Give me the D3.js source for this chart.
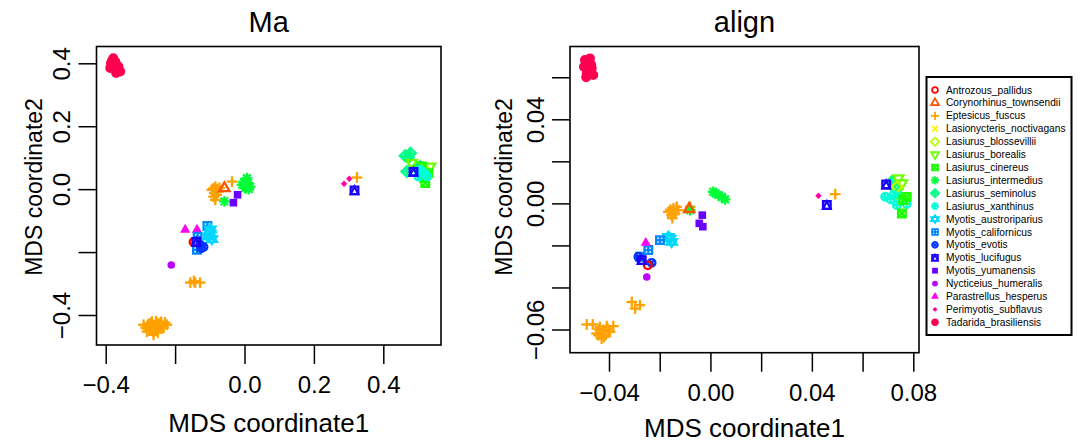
<!DOCTYPE html>
<html><head><meta charset="utf-8">
<script src="https://cdn.jsdelivr.net/npm/d3@7"></script>
<style>
body{margin:0;background:#fff}
svg{display:block}
text{font-family:"Liberation Sans",Arial,Helvetica,sans-serif;fill:#000}
</style>
</head><body>
<svg id="chart" width="1080" height="443"></svg>
<script>
// ---------------- data ----------------
const species = ["Antrozous_pallidus","Corynorhinus_townsendii","Eptesicus_fuscus","Lasionycteris_noctivagans",
  "Lasiurus_blossevillii","Lasiurus_borealis","Lasiurus_cinereus","Lasiurus_intermedius","Lasiurus_seminolus",
  "Lasiurus_xanthinus","Myotis_austroriparius","Myotis_californicus","Myotis_evotis","Myotis_lucifugus",
  "Myotis_yumanensis","Nycticeius_humeralis","Parastrellus_hesperus","Perimyotis_subflavus","Tadarida_brasiliensis"];
const panelTitles = ["Ma","align"];
const xAxisTitle = "MDS coordinate1";
const yAxisTitle = "MDS coordinate2";

const maXTicks = [-0.4,-0.2,0.0,0.2,0.4];
const maXTickLabels = ["\u22120.4","","0.0","0.2","0.4"];
const maYTicks = [-0.4,-0.2,0.0,0.2,0.4];
const maYTickLabels = ["\u22120.4","","0.0","0.2","0.4"];
const alignXTicks = [-0.04,-0.02,0.00,0.02,0.04,0.06,0.08];
const alignXTickLabels = ["\u22120.04","","0.00","","0.04","","0.08"];
const alignYTicks = [-0.06,-0.04,-0.02,0.00,0.02,0.04,0.06];
const alignYTickLabels = ["\u22120.06","","","0.00","","0.04",""];

// rows: [species index, MDS coordinate1, MDS coordinate2]
const maPoints = [
  [18,-0.385,0.400],[18,-0.378,0.416],[18,-0.363,0.390],[18,-0.358,0.374],[18,-0.370,0.369],[18,-0.387,0.385],[18,-0.380,0.395],
  [18,-0.372,0.405],[18,-0.366,0.380],[18,-0.382,0.408],[18,-0.375,0.384],
  [2,-0.291,-0.431],[2,-0.277,-0.437],[2,-0.267,-0.421],[2,-0.257,-0.447],[2,-0.248,-0.426],[2,-0.238,-0.435],[2,-0.224,-0.431],
  [2,-0.281,-0.453],[2,-0.262,-0.463],[2,-0.252,-0.442],[2,-0.272,-0.426],[2,-0.229,-0.424],[2,-0.245,-0.440],[2,-0.268,-0.445],
  [2,-0.285,-0.440],[2,-0.274,-0.446],[2,-0.259,-0.432],[2,-0.243,-0.430],[2,-0.233,-0.440],[2,-0.263,-0.452],[2,-0.255,-0.420],
  [2,-0.278,-0.430],[2,-0.250,-0.456],[2,-0.240,-0.422],
  [2,-0.156,-0.297],[2,-0.142,-0.297],[2,-0.128,-0.297],[2,-0.146,-0.292],
  [2,-0.094,-0.002],[2,-0.084,0.008],[2,-0.075,-0.008],[2,-0.089,-0.024],[2,-0.080,-0.018],[2,-0.084,-0.034],[2,-0.090,0.002],
  [2,-0.079,0.000],[2,-0.087,-0.012],[2,-0.072,0.004],
  [2,-0.036,0.024],[2,0.324,0.037],
  [1,-0.058,0.003],
  [7,-0.007,0.014],[7,0.007,0.035],[7,0.016,0.008],[7,0.002,0.003],[7,0.010,0.020],[7,-0.002,0.022],[7,0.012,0.000],[7,-0.058,-0.039],
  [14,-0.032,-0.043],[14,-0.020,-0.018],
  [17,0.287,0.017],[17,0.302,0.033],
  [13,0.317,-0.004],
  [8,0.463,0.106],[8,0.478,0.114],[8,0.468,0.056],[8,0.506,0.072],[8,0.472,0.100],[8,0.495,0.068],
  [5,0.482,0.083],[5,0.535,0.072],
  [4,0.516,0.067],[3,0.516,0.061],
  [6,0.511,0.072],[6,0.521,0.019],[6,0.530,0.051],[6,0.518,0.035],
  [9,0.501,0.040],[9,0.526,0.040],[9,0.511,0.056],[9,0.520,0.050],[9,0.506,0.062],
  [13,0.487,0.055],
  [16,-0.171,-0.129],[16,-0.137,-0.129],
  [11,-0.107,-0.117],[11,-0.137,-0.193],[11,-0.135,-0.151],
  [10,-0.099,-0.140],[10,-0.094,-0.159],[10,-0.104,-0.151],[10,-0.098,-0.128],
  [0,-0.147,-0.168],
  [12,-0.118,-0.184],[12,-0.128,-0.177],[12,-0.125,-0.188],
  [13,-0.139,-0.168],
  [15,-0.211,-0.241]
];
const alignPoints = [
  [18,-0.0495,0.0682],[18,-0.0475,0.0690],[18,-0.0499,0.0650],[18,-0.0468,0.0643],[18,-0.0488,0.0619],[18,-0.0462,0.0611],[18,-0.0482,0.0667],
  [18,-0.0478,0.0630],[18,-0.0490,0.0600],[18,-0.0470,0.0660],
  [2,-0.0488,-0.0576],[2,-0.0464,-0.0576],[2,-0.0436,-0.0588],[2,-0.0409,-0.0584],[2,-0.0383,-0.0584],[2,-0.0449,-0.0619],
  [2,-0.0422,-0.0603],[2,-0.0396,-0.0611],[2,-0.0429,-0.0643],[2,-0.0442,-0.0627],[2,-0.0416,-0.0627],
  [2,-0.0432,-0.0612],[2,-0.0405,-0.0596],[2,-0.0438,-0.0600],[2,-0.0420,-0.0636],
  [2,-0.0310,-0.0469],[2,-0.0278,-0.0484],[2,-0.0297,-0.0500],
  [2,-0.0166,-0.0040],[2,-0.0146,-0.0024],[2,-0.0127,-0.0032],[2,-0.0153,-0.0056],[2,-0.0140,-0.0048],[2,-0.0133,-0.0016],
  [2,-0.0158,-0.0030],[2,-0.0150,-0.0070],
  [2,-0.0080,-0.0016],[2,0.0492,0.0044],
  [7,0.0011,0.0055],[7,0.0031,0.0040],[7,0.0058,0.0019],[7,0.0020,0.0048],[7,0.0045,0.0030],[7,-0.0080,-0.0032],
  [1,-0.0084,-0.0027],
  [14,-0.0032,-0.0056],[14,-0.0044,-0.0095],[14,-0.0030,-0.0111],
  [10,-0.0166,-0.0159],[10,-0.0153,-0.0183],[10,-0.0159,-0.0167],
  [11,-0.0199,-0.0175],[11,-0.0245,-0.0222],[11,-0.0278,-0.0254],
  [16,-0.0255,-0.0188],
  [12,-0.0232,-0.0283],[12,-0.0284,-0.0254],
  [0,-0.0247,-0.0294],
  [13,-0.0271,-0.0270],[13,0.0459,-0.0008],
  [15,-0.0251,-0.0350],
  [17,0.0426,0.0036],
  [8,0.0715,0.0103],[8,0.0741,0.0040],[8,0.0728,0.0070],
  [5,0.0741,0.0119],[5,0.0755,0.0095],
  [4,0.0735,0.0079],[3,0.0748,0.0000],
  [9,0.0689,0.0031],[9,0.0735,-0.0008],[9,0.0774,-0.0003],[9,0.0722,0.0040],[9,0.0710,0.0020],
  [6,0.0755,-0.0048],[6,0.0761,0.0016],[6,0.0774,0.0031],
  [13,0.0693,0.0090]
];

// ---------------- styling ----------------
const colors = species.map((s,i)=> d3.hsl(i*360/species.length,1,0.5).formatHex());
const pchCodes = species.map((s,i)=> i+1);   // R pch 1..19

function drawPch(g, pch, col, R, lw){
  const TRC0=1.5551, TRC1=1.3468, TRC2=0.7776, S2=Math.SQRT2;
  const stroke = sel => sel.attr("fill","none").attr("stroke",col).attr("stroke-width",lw);
  const poly = (pts, filled) => {
    const p = g.append("path").attr("d","M"+pts.map(q=>q.join(",")).join("L")+"Z");
    if(filled) p.attr("fill",col).attr("stroke","none"); else stroke(p);
  };
  const seg = (x1,y1,x2,y2)=> stroke(g.append("line").attr("x1",x1).attr("y1",y1).attr("x2",x2).attr("y2",y2));
  const circ = (r, filled)=> { const c=g.append("circle").attr("r",r); if(filled) c.attr("fill",col); else stroke(c); };
  let xc, r, yc;
  switch(pch){
    case 1: circ(R,false); break;
    case 2: case 6: case 17: {
      xc=R; r=TRC0*xc; yc=TRC2*xc; xc=TRC1*xc;
      const s = pch===6 ? -1 : 1;
      poly([[0,-s*r],[xc,s*yc],[-xc,s*yc]], pch===17); break; }
    case 3: xc=S2*R; seg(-xc,0,xc,0); seg(0,-xc,0,xc); break;
    case 4: seg(-R,-R,R,R); seg(-R,R,R,-R); break;
    case 5: xc=S2*R; poly([[-xc,0],[0,-xc],[xc,0],[0,xc]],false); break;
    case 7: poly([[-R,-R],[R,-R],[R,R],[-R,R]],false); seg(-R,-R,R,R); seg(-R,R,R,-R); break;
    case 8: seg(-R,-R,R,R); seg(-R,R,R,-R); xc=S2*R; seg(-xc,0,xc,0); seg(0,-xc,0,xc); break;
    case 9: xc=S2*R; seg(-xc,0,xc,0); seg(0,-xc,0,xc); poly([[-xc,0],[0,-xc],[xc,0],[0,xc]],false); break;
    case 10: circ(R,false); seg(-R,0,R,0); seg(0,-R,0,R); break;
    case 11: {
      xc=R; r=TRC0*xc; yc=TRC2*xc; yc=0.5*(yc+r); xc=TRC1*xc;
      poly([[0,-r*0.85],[xc,yc*0.6],[-xc,yc*0.6]],false);
      poly([[0,r*0.85],[xc,-yc*0.6],[-xc,-yc*0.6]],false); break; }
    case 12: poly([[-R,-R],[R,-R],[R,R],[-R,R]],false); seg(-R,0,R,0); seg(0,-R,0,R); break;
    case 13: circ(R,false); xc=R*0.72; seg(-xc,-xc,xc,xc); seg(-xc,xc,xc,-xc); break;
    case 14: poly([[-R,-R],[R,-R],[R,R],[-R,R]],false); poly([[0,-R],[R,R],[-R,R]],false); break;
    case 15: poly([[-R,-R],[R,-R],[R,R],[-R,R]],true); break;
    case 16: circ(R,true); break;
    case 18: xc=R*0.85; poly([[-xc,0],[0,-xc],[xc,0],[0,xc]],true); break;
    case 19: g.append("circle").attr("r",R).attr("fill",col).attr("stroke",col).attr("stroke-width",lw); break;
    case 20: circ(R*2/3,true); break;
  }
}

const svg = d3.select("#chart");
svg.append("rect").attr("width",1080).attr("height",443).attr("fill","#fff");

const panels = [
  {title:panelTitles[0], pts:maPoints, box:[96.5,46.5,441,345],
   xs:d3.scaleLinear().domain([-0.4,0.4]).range([105.7,383.3]),
   ys:d3.scaleLinear().domain([-0.4,0.4]).range([315,63.3]),
   xt:maXTicks, xl:maXTickLabels, yt:maYTicks, yl:maYTickLabels,
   xTitleY:431.5, yTitleX:41.5},
  {title:panelTitles[1], pts:alignPoints, box:[570,46.5,919,352.7],
   xs:d3.scaleLinear().domain([-0.04,0.08]).range([609,913.3]),
   ys:d3.scaleLinear().domain([-0.06,0.04]).range([329.5,119.3]),
   xt:alignXTicks, xl:alignXTickLabels, yt:alignYTicks, yl:alignYTickLabels,
   xTitleY:437, yTitleX:511.5}
];

panels.forEach(p=>{
  const [x0,y0,x1,y1]=p.box;
  const cx=(x0+x1)/2;
  const gp = svg.append("g");
  p.pts.forEach(d=>{
    const g = gp.append("g").attr("transform",`translate(${p.xs(d[1])},${p.ys(d[2])})`);
    drawPch(g, pchCodes[d[0]], colors[d[0]], 3.8, 2.3);
  });
  svg.append("rect").attr("x",x0).attr("y",y0).attr("width",x1-x0).attr("height",y1-y0)
    .attr("fill","none").attr("stroke","#000").attr("stroke-width",1.6);
  const ax = svg.append("g").attr("transform",`translate(0,${y1})`)
    .call(d3.axisBottom(p.xs).tickValues(p.xt).tickSize(19).tickFormat((d,i)=>p.xl[i]));
  ax.select(".domain").remove();
  ax.selectAll("line").attr("stroke","#000").attr("stroke-width",1.5);
  ax.selectAll("text").attr("y",48).attr("dy",0).style("font-size","24px")
    .style("font-family","'Liberation Sans',Arial,sans-serif");
  const ay = svg.append("g").attr("transform",`translate(${x0},0)`)
    .call(d3.axisLeft(p.ys).tickValues(p.yt).tickSize(18).tickFormat((d,i)=>p.yl[i]));
  ay.select(".domain").remove();
  ay.selectAll("line").attr("stroke","#000").attr("stroke-width",1.5);
  ay.selectAll("text").attr("x",0).attr("y",0).attr("dy",0).attr("text-anchor","middle")
    .style("font-size","24px").style("font-family","'Liberation Sans',Arial,sans-serif")
    .attr("transform","translate(-26.5,0) rotate(-90)");
  svg.append("text").attr("x",cx).attr("y",32).attr("text-anchor","middle")
    .style("font-size","29px").text(p.title);
  svg.append("text").attr("x",cx).attr("y",p.xTitleY).attr("text-anchor","middle")
    .style("font-size","26px").text(xAxisTitle);
  svg.append("text").attr("transform",`translate(${p.yTitleX},187) rotate(-90)`)
    .attr("text-anchor","middle").style("font-size","23px").text(yAxisTitle);
});

// legend
const lg = svg.append("g");
lg.append("rect").attr("x",926.5).attr("y",77).attr("width",145).attr("height",258)
  .attr("fill","#fff").attr("stroke","#000").attr("stroke-width",2);
const ly = d3.scaleLinear().domain([0,species.length-1]).range([90,322.3]);
species.forEach((s,i)=>{
  const g = lg.append("g").attr("transform",`translate(935,${ly(i)})`);
  drawPch(g, pchCodes[i], colors[i], 2.9, 1.8);
  lg.append("text").attr("x",946).attr("y",ly(i)).attr("dy","0.35em")
    .style("font-size","10.2px").text(s);
});
</script>
</body></html>
